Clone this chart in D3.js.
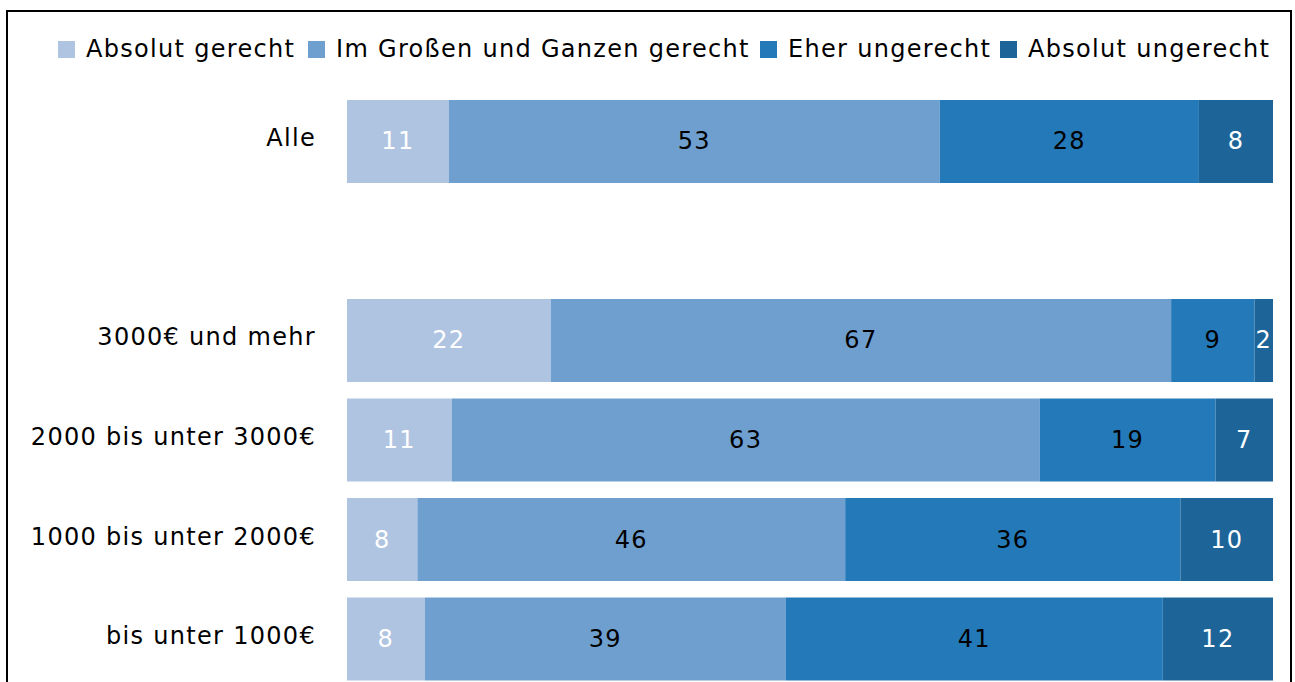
<!DOCTYPE html>
<html>
<head>
<meta charset="utf-8">
<script src="https://cdn.jsdelivr.net/npm/d3@7"></script>
<style>
  body { margin: 0; background: #fff; }
  text { font-family: "DejaVu Sans", sans-serif; letter-spacing: 1.3px; }
</style>
</head>
<body>
<div id="chart"></div>
<script>
const width = 1295, height = 682

// groups top to bottom, "" is the empty gap row
const groups = ["Alle", "", "3000€ und mehr", "2000 bis unter 3000€", "1000 bis unter 2000€", "bis unter 1000€"]
const answers = ["Absolut gerecht", "Im Großen und Ganzen gerecht", "Eher ungerecht", "Absolut ungerecht"]
const colors = ["#afc4e1", "#6e9fcf", "#2479b8", "#1d6599"]
const textColors = ["#fff", "#000", "#000", "#fff"]

// percentages per group (same order as answers)
const alle = [11, 53, 28, 8]
const over3000 = [22, 67, 9, 2]
const from2000 = [11.3, 63.5, 19, 6.2]
const from1000 = [7.6, 46.2, 36.2, 10]
const under1000 = [8.4, 39, 40.7, 11.9]

// printed labels
const alleLabels = [11, 53, 28, 8]
const over3000Labels = [22, 67, 9, 2]
const from2000Labels = [11, 63, 19, 7]
const from1000Labels = [8, 46, 36, 10]
const under1000Labels = [8, 39, 41, 12]

const rows = [
  {group: "Alle", values: alle, labels: alleLabels},
  {group: "3000€ und mehr", values: over3000, labels: over3000Labels},
  {group: "2000 bis unter 3000€", values: from2000, labels: from2000Labels},
  {group: "1000 bis unter 2000€", values: from1000, labels: from1000Labels},
  {group: "bis unter 1000€", values: under1000, labels: under1000Labels}
]

let svg = d3.select("#chart")
  .append("svg")
  .attr("width", width)
  .attr("height", height)

// frame
svg.append("rect")
  .attr("x", 7).attr("y", 11)
  .attr("width", 1284).attr("height", 700)
  .attr("fill", "none")
  .attr("stroke", "#000")
  .attr("stroke-width", 2)

let x = d3.scaleLinear().domain([0, 100]).range([347, 1273])
let y = d3.scaleBand().domain(groups).range([100, 680.5]).paddingInner(0.166).paddingOuter(0)

// stack the values
let segs = []
rows.forEach(r => {
  let acc = 0
  r.values.forEach((v, i) => {
    segs.push({group: r.group, i: i, x0: acc, x1: acc + v, label: r.labels[i]})
    acc += v
  })
})

svg.append("g").selectAll("rect")
  .data(segs)
  .enter()
  .append("rect")
  .attr("x", d => x(d.x0))
  .attr("y", d => y(d.group))
  .attr("width", d => x(d.x1) - x(d.x0))
  .attr("height", y.bandwidth())
  .attr("fill", d => colors[d.i])

svg.append("g").selectAll("text")
  .data(segs)
  .enter()
  .append("text")
  .attr("x", d => (x(d.x0) + x(d.x1)) / 2)
  .attr("y", d => y(d.group) + y.bandwidth() / 2 + 8)
  .attr("text-anchor", "middle")
  .attr("font-size", 24)
  .attr("fill", d => textColors[d.i])
  .text(d => d.label)

// category labels
svg.append("g").selectAll("text")
  .data(rows)
  .enter()
  .append("text")
  .attr("x", 316)
  .attr("y", d => y(d.group) + y.bandwidth() / 2 + 5)
  .attr("text-anchor", "end")
  .attr("font-size", 24)
  .attr("fill", "#000")
  .text(d => d.group)

// legend
const legendX = [58, 308, 760, 1000]
let legend = svg.append("g").selectAll("g")
  .data(answers)
  .enter()
  .append("g")
  .attr("transform", (d, i) => `translate(${legendX[i]}, 40)`)
legend.append("rect")
  .attr("y", 1)
  .attr("width", 17).attr("height", 17)
  .attr("fill", (d, i) => colors[i])
legend.append("text")
  .attr("x", 28)
  .attr("y", 17)
  .attr("font-size", 24)
  .attr("fill", "#000")
  .text(d => d)
</script>
</body>
</html>
